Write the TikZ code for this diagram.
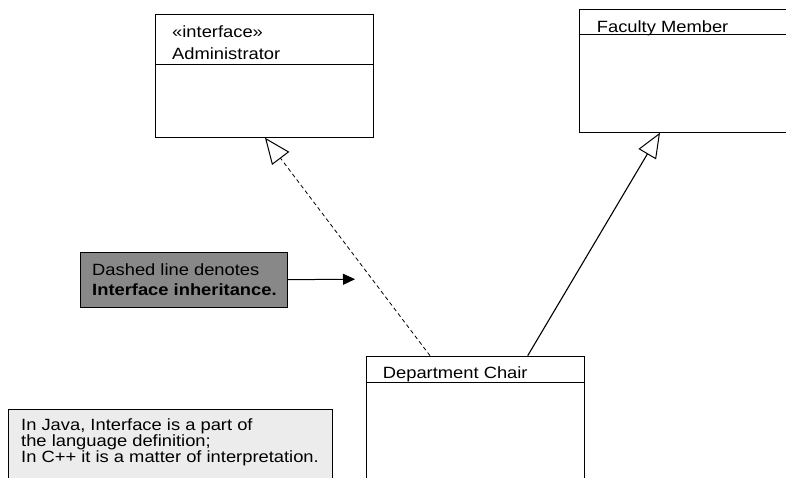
\documentclass[tikz,border=0pt]{standalone}
\usepackage{fontspec}
% slightly widened sans face, as the labels are set broad and low
\setmainfont[FakeStretch=1.125]{Liberation Sans}
\usetikzlibrary{arrows.meta,calc}
\definecolor{notegray}{HTML}{888888}
\definecolor{panelgray}{HTML}{ECECEC}
\begin{document}
\begin{tikzpicture}[x=1pt,y=-1pt,
  classbox/.style={draw=black,line width=1pt,fill=white,anchor=north west,inner sep=0pt},
  notebox/.style={draw=black,line width=1pt,anchor=north west,inner sep=0pt},
  lbl/.style={anchor=base west,inner sep=0pt,font=\fontsize{16.3}{18}\selectfont},
  divider/.style={draw=black,line width=1pt},
  realize/.style={draw=black,line width=0.8pt,dash pattern=on 4pt off 3pt,
    -{Triangle[open,length=26pt,width=21.5pt,line width=1pt]}},
  generalize/.style={draw=black,line width=1.1pt,
    -{Triangle[open,length=25pt,width=20.3pt,line width=1pt]}},
  pointer/.style={draw=black,line width=1pt,-{Triangle[length=12pt,width=11pt]}}
]
\useasboundingbox (0,0) rectangle (786,478);

% class boxes
\node[classbox,minimum width=218.3pt,minimum height=122.4pt] (admin) at (155,14.3) {};
\node[classbox,minimum width=240pt,minimum height=122.4pt] (faculty) at (579,9.3) {};
\node[classbox,minimum width=218.3pt,minimum height=150pt] (chair) at (365.7,355.7) {};

% compartment dividers
\draw[divider] ($(admin.north west)+(0,50.7)$) -- ($(admin.north east)+(0,50.7)$);
\draw[divider] ($(faculty.north west)+(0,25.7)$) -- ($(faculty.north east)+(0,25.7)$);
\draw[divider] ($(chair.north west)+(0,26.3)$) -- ($(chair.north east)+(0,26.3)$);

% class names
\node[lbl] (admintag) at (172,37.3) {«interface»};
\node[lbl] (adminname) at (172,60) {Administrator};
\node[lbl] (facultyname) at (596.7,32.3) {Faculty Member};
\node[lbl] (chairname) at (382.7,378.3) {Department Chair};

% notes
\node[notebox,fill=notegray,minimum width=207pt,minimum height=55pt] (note) at (80,251.7) {};
\node[lbl] (noteline1) at (92,275) {Dashed line denotes};
\node[lbl] (noteline2) at (92,295.3) {\bfseries Interface inheritance.};

\node[notebox,fill=panelgray,minimum width=323.7pt,minimum height=100pt] (lang) at (8.3,409) {};
\node[lbl] (langline1) at (21,430.7) {In Java, Interface is a part of};
\node[lbl] (langline2) at (21,446.7) {the language definition;};
\node[lbl] (langline3) at (21,462.2) {In C++ it is a matter of interpretation.};

% connector end points on the box edges
\coordinate (chairleft) at ($(chair.north west)+(64.3,0)$);
\coordinate (chairright) at ($(chair.north west)+(162,0)$);
\coordinate (adminfoot) at ($(admin.south west)+(110,0)$);
\coordinate (facultyfoot) at ($(faculty.south west)+(81,0)$);
\coordinate (notetip) at (355,279.2);

% connectors
\draw[realize] (chairleft) -- (adminfoot);
\draw[generalize] (chairright) -- (facultyfoot);
\draw[pointer] (note.east) -- (notetip);
\end{tikzpicture}
\end{document}
